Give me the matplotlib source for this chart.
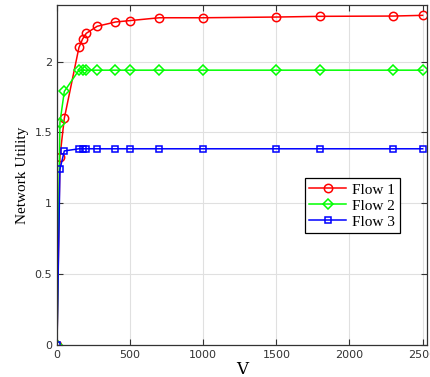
import matplotlib
matplotlib.use("Agg")
import matplotlib.pyplot as plt

V = [0, 20, 50, 150, 175, 200, 275, 400, 500, 700, 1000, 1500, 1800, 2300, 2500]
flow1 = [0, 1.33, 1.60, 2.10, 2.16, 2.20, 2.25, 2.28, 2.29, 2.31, 2.31, 2.315, 2.32, 2.322, 2.327]
flow2 = [0, 1.57, 1.79, 1.94, 1.94, 1.94, 1.94, 1.94, 1.94, 1.94, 1.94, 1.94, 1.94, 1.94, 1.94]
flow3 = [0, 1.24, 1.37, 1.385, 1.385, 1.385, 1.385, 1.385, 1.385, 1.385, 1.385, 1.385, 1.385, 1.385, 1.385]
labels = ["Flow 1", "Flow 2", "Flow 3"]

fig = plt.figure(figsize=(4.3, 3.77), dpi=100)
ax = fig.add_axes([57/430, 32/377, 370/430, 340/377])

ax.plot(V, flow1, color="red", marker="o", mfc="none", ms=6, lw=1.1, mew=1.1, label=labels[0])
ax.plot(V, flow2, color="#00ff00", marker="D", mfc="none", ms=5, lw=1.1, mew=1.1, label=labels[1])
ax.plot(V, flow3, color="blue", marker="s", mfc="none", ms=4.5, lw=1.1, mew=1.1, label=labels[2])

ax.set_xlim(0, 2530)
ax.set_ylim(0, 2.4)
ax.set_xticks([0, 500, 1000, 1500, 2000, 2500])
ax.set_yticks([0, 0.5, 1, 1.5, 2])
ax.set_yticklabels(["0", "0.5", "1", "1.5", "2"])
ax.grid(True, color="#e0e0e0", lw=0.8)
ax.set_axisbelow(True)
ax.tick_params(direction="in", top=True, right=True, labelsize=8, colors="#333333", length=4, width=0.8)
for s in ax.spines.values():
    s.set_color("#333333")
    s.set_linewidth(0.9)

ax.set_xlabel("V", fontfamily="DejaVu Serif", fontsize=12, labelpad=1)
ax.set_ylabel("Network Utility", fontfamily="Liberation Serif", fontsize=11, labelpad=4)

leg = ax.legend(loc="upper left", bbox_to_anchor=(0.67, 0.49), prop={"family": "Liberation Serif", "size": 11},
                fancybox=False, edgecolor="black", framealpha=1, borderpad=0.3, labelspacing=0.15,
                handlelength=2.4, handletextpad=0.4, borderaxespad=0)
leg.get_frame().set_linewidth(0.9)

fig.savefig("out.png", dpi=100)
